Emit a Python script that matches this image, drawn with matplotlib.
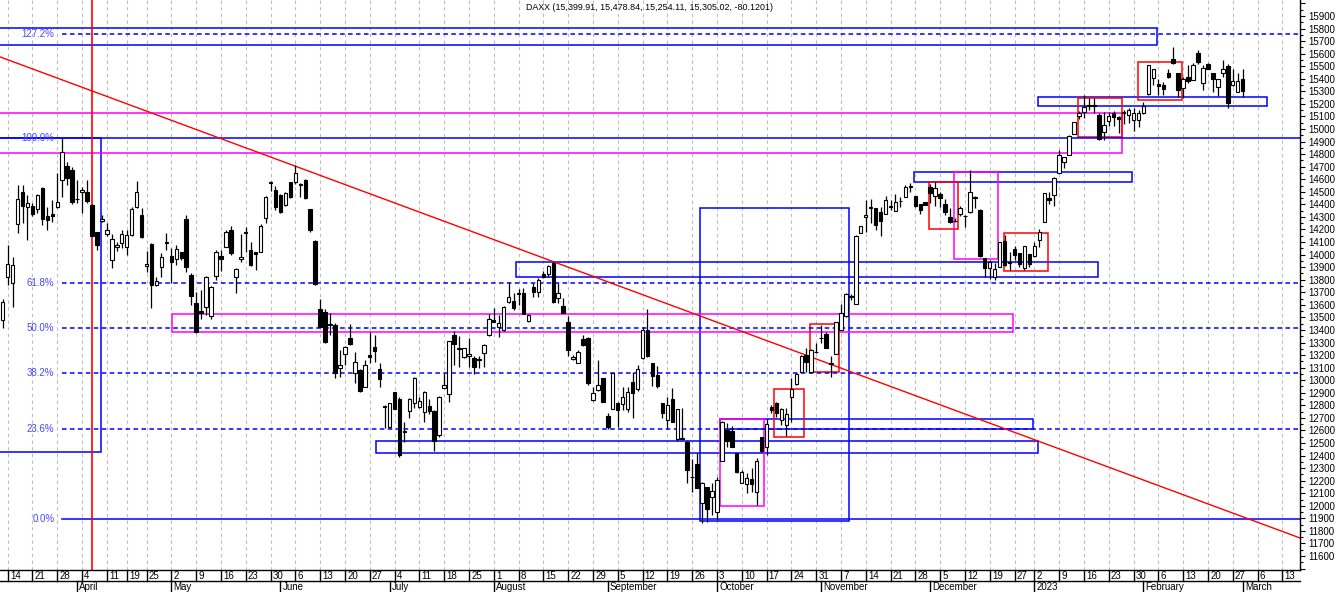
import matplotlib
matplotlib.use("Agg")
import matplotlib.pyplot as plt
from matplotlib.patches import Rectangle
from matplotlib.ticker import MultipleLocator, FuncFormatter
import pandas as pd

TITLE = "DAXX (15,399.91, 15,478.84, 15,254.11, 15,305.02, -80.1201)"

# bars run from 2022-03-11 to 2023-03-01 (Xetra trading days), the axis goes on into March
first_day = "2022-03-11"
last_axis_day = "2023-03-24"
holidays = ["2022-04-15", "2022-04-18", "2022-12-26"]

# one line per week
opens = [13480,
         13825, 13772, 14244, 14501, 14377,
         14387, 14361, 14528, 14308, 14324,
         14377, 14594, 14706, 14674, 14440,
         14501, 14501, 14395, 14178, 14270,
         14164, 13957, 14063, 14095,
         14058, 14156, 14377, 14316,
         13910, 14085, 13758, 13904, 14095,
         13989, 13963, 14018, 14281, 13838,
         13618, 13550, 13586, 13510, 13830,
         13990, 14063, 14196, 13819, 13963,
         14180, 14037, 14020, 14024, 14289,
         14570, 14515, 14475, 14395, 14576,
         14576, 14560, 14594, 14361, 14111,
         13564, 13546, 13440, 13440, 13095,
         13209, 13334, 13060, 13081, 12949,
         13200, 13262, 13087, 12795, 12625,
         12904, 12853, 12590, 12758, 12816,
         12784, 12750, 12795, 12758, 12564,
         12941, 12890, 13360, 13250, 13182,
         13193, 13174, 13160, 13214, 13360,
         13480, 13421, 13400, 13626, 13634,
         13690, 13697, 13470, 13740, 13705,
         13846, 13846, 13936, 13652, 13591,
         13466, 13167, 13135, 13326, 13334,
         12843, 12922, 13015, 12715, 12768,
         12822, 12811, 12768, 12983, 12928,
         13174, 13400, 13140, 13042, 12821,
         12683, 12848, 12529, 12537, 12511,
         12230, 12333, 12025, 12147, 12068,
         11953, 12360, 12604, 12598, 12418,
         12179, 12174, 12211, 12113, 12545,
         12471, 12784, 12816, 12683, 12643,
         12869, 12970, 13068, 13201, 13068,
         13225, 13340, 13368, 13135, 13206,
         13400, 13511, 13670, 13607, 14175,
         14297, 14370, 14369, 14342, 14324,
         14385, 14350, 14430, 14456, 14545,
         14467, 14403, 14422, 14536, 14467,
         14483, 14403, 14302, 14270, 14324,
         14310, 14342, 14448, 14355, 13971,
         13890, 13825, 13904, 14108, 13930,
         14042, 14010, 13891, 14002,
         13989, 14116, 14262, 14453, 14475,
         14653, 14740, 14793, 14960, 15105,
         15138, 15195, 15190, 15112, 14980,
         15066, 15125, 15093, 15130, 15112,
         15072, 15072, 15125, 15279, 15404,
         15360, 15350, 15449, 15555, 15443,
         15324, 15417, 15390, 15603, 15364,
         15518, 15449, 15337, 15449, 15502,
         15350, 15298, 15399.91]

highs = [13650,
         14077, 13984, 14554, 14554, 14475,
         14408, 14480, 14541, 14382, 14435,
         14647, 14926, 14740, 14700, 14594,
         14541, 14594, 14400, 14180, 14316,
         14249, 14162, 14103, 14196,
         14196, 14382, 14589, 14369,
         14032, 14090, 13825, 14010, 14175,
         14050, 14077, 14024, 14316, 13851,
         13705, 13720, 13830, 13750, 14037,
         14037, 14196, 14228, 13890, 14164,
         14223, 14103, 14024, 14244, 14470,
         14586, 14546, 14480, 14495, 14580,
         14714, 14568, 14600, 14365, 14115,
         13644, 13564, 13533, 13453, 13241,
         13270, 13448, 13227, 13090, 13161,
         13387, 13360, 13134, 12803, 12822,
         12909, 12869, 12670, 12856, 13025,
         12869, 12914, 12848, 12760, 12877,
         13060, 13315, 13395, 13352, 13260,
         13334, 13193, 13190, 13285, 13525,
         13573, 13520, 13591, 13785, 13692,
         13724, 13732, 13530, 13772, 13812,
         13866, 13918, 13944, 13772, 13652,
         13511, 13201, 13241, 13360, 13342,
         12949, 13161, 13015, 12737, 13055,
         12830, 12949, 12949, 13068, 13121,
         13420, 13565, 13140, 13115, 12821,
         12869, 12935, 12768, 12776, 12519,
         12370, 12418, 12192, 12147, 12184,
         12232, 12678, 12657, 12638, 12418,
         12286, 12259, 12298, 12378, 12545,
         12689, 12800, 12824, 12776, 12776,
         13015, 13055, 13201, 13254, 13246,
         13294, 13440, 13387, 13193, 13466,
         13607, 13692, 13687, 14156, 14228,
         14435, 14440, 14369, 14382, 14467,
         14435, 14483, 14462, 14554, 14573,
         14467, 14403, 14422, 14562, 14581,
         14501, 14440, 14369, 14294, 14387,
         14316, 14674, 14467, 14361, 13971,
         13960, 13930, 14103, 14156, 14024,
         14070, 14010, 14071, 14002,
         14100, 14200, 14490, 14500, 14615,
         14833, 14780, 14950, 15059, 15146,
         15271, 15244, 15250, 15130, 15138,
         15138, 15146, 15104, 15150, 15165,
         15165, 15150, 15218, 15510, 15470,
         15396, 15377, 15475, 15656, 15443,
         15417, 15510, 15523, 15629, 15510,
         15523, 15449, 15396, 15550, 15518,
         15475, 15443, 15478.84]

lows = [13413,
        13758, 13580, 14175, 14249, 14117,
        14310, 14330, 14236, 14196, 14263,
        14370, 14462, 14554, 14405, 14408,
        14334, 14414, 14150, 14040, 14260,
        14150, 13891, 14032, 14050,
        13997, 14150, 14370, 14135,
        13864, 13573, 13750, 13825, 14037,
        13777, 13918, 13960, 13864, 13599,
        13375, 13490, 13519, 13485, 13798,
        13872, 14058, 14000, 13692, 13944,
        14024, 13910, 13878, 14020, 14249,
        14509, 14355, 14329, 14390, 14448,
        14562, 14462, 14440, 14183, 13758,
        13420, 13299, 13360, 13015, 13023,
        13121, 13280, 12975, 12910, 12945,
        13134, 13148, 12949, 12617, 12617,
        12770, 12391, 12511, 12697, 12776,
        12780, 12670, 12731, 12439, 12551,
        12936, 12829, 13121, 13103, 13175,
        13108, 13050, 13100, 13103, 13352,
        13460, 13342, 13395, 13618, 13559,
        13599, 13525, 13460, 13665, 13665,
        13810, 13820, 13618, 13618, 13533,
        13193, 13161, 13135, 13273, 12962,
        12837, 12917, 12829, 12609, 12768,
        12625, 12763, 12750, 12700, 12915,
        13170, 13187, 12954, 12940, 12700,
        12617, 12665, 12520, 12529, 12184,
        12113, 12139, 11866, 11874, 11925,
        11887, 12360, 12466, 12466, 12265,
        12179, 12100, 12113, 12007, 12430,
        12404, 12740, 12710, 12644, 12556,
        12670, 12964, 13062, 13068, 13060,
        13214, 13299, 13254, 13028, 13206,
        13400, 13506, 13639, 13607, 14175,
        14183, 14249, 14196, 14148, 14324,
        14355, 14350, 14382, 14456, 14501,
        14382, 14323, 14395, 14414, 14387,
        14382, 14316, 14255, 14260, 14308,
        14223, 14334, 14369, 13980, 13825,
        13803, 13798, 13900, 13909, 13878,
        13960, 13905, 13878, 13900,
        13980, 14060, 14262, 14400, 14390,
        14653, 14690, 14793, 14960, 15080,
        15085, 15151, 15130, 14913, 14913,
        15024, 15024, 14970, 15040, 15045,
        14987, 15013, 15120, 15270, 15350,
        15271, 15271, 15404, 15520, 15258,
        15244, 15368, 15390, 15520, 15311,
        15475, 15298, 15263, 15412, 15165,
        15342, 15298, 15254.11]

closes = [13626,
          13929, 13917, 14440, 14388, 14413,
          14326, 14474, 14283, 14274, 14305,
          14417, 14820, 14606, 14415, 14446,
          14518, 14424, 14152, 14078, 14284,
          14193, 14124, 14076, 14163,
          14153, 14362, 14502, 14142,
          13924, 13756, 13793, 13979, 14098,
          13940, 14042, 13971, 13902, 13674,
          13381, 13534, 13825, 13740, 14024,
          13964, 14183, 14010, 13883, 13984,
          14175, 13917, 14008, 14228, 14462,
          14575, 14382, 14342, 14488, 14462,
          14653, 14557, 14448, 14196, 13766,
          13426, 13307, 13447, 13055, 13121,
          13267, 13288, 13142, 12917, 13118,
          13186, 13236, 13007, 12784, 12816,
          12774, 12405, 12596, 12850, 13020,
          12835, 12909, 12758, 12519, 12869,
          12962, 13312, 13286, 13254, 13254,
          13206, 13103, 13166, 13281, 13485,
          13466, 13453, 13586, 13665, 13573,
          13697, 13527, 13520, 13700, 13798,
          13825, 13910, 13626, 13697, 13538,
          13241, 13188, 13222, 13280, 12975,
          12896, 12962, 12829, 12630, 13055,
          12763, 12869, 12909, 12901, 13087,
          13400, 13189, 13034, 12956, 12742,
          12803, 12671, 12767, 12531, 12284,
          12227, 12139, 12183, 11975, 12114,
          12209, 12670, 12517, 12470, 12273,
          12272, 12220, 12172, 12355, 12438,
          12650, 12765, 12741, 12767, 12731,
          12931, 13053, 13196, 13148, 13243,
          13228, 13338, 13257, 13130, 13460,
          13533, 13688, 13666, 14146, 14224,
          14313, 14379, 14234, 14267, 14431,
          14380, 14422, 14427, 14539, 14541,
          14383, 14355, 14397, 14490, 14529,
          14447, 14343, 14261, 14264, 14370,
          14306, 14497, 14460, 13986, 13893,
          13942, 13885, 14098, 13914, 13940,
          13995, 13925, 14071, 13924,
          14069, 14181, 14490, 14436, 14610,
          14792, 14775, 14948, 15058, 15128,
          15178, 15187, 15181, 14920, 15033,
          15103, 15093, 15077, 15132, 15150,
          15126, 15128, 15181, 15509, 15476,
          15345, 15321, 15412, 15524, 15307,
          15398, 15380, 15507, 15533, 15482,
          15478, 15398, 15400, 15476, 15210,
          15382, 15385, 15305.02]

# fibonacci retracement (0% = Sept low, 100% = March high)
fib_names = ["127.2%", "100.0%", "61.8%", "50.0%", "38.2%", "23.6%", "0.0%"]
fib_levels = [15757, 14929, 13770, 13412, 13054, 12611, 11895]

# hand drawn boxes: (left bar, right bar, low, high)
blue_boxes = [(-3, 232.7, 15669, 15804),
              (208.8, 254.9, 15183, 15253),
              (-3, 19.8, 12432, 14929),
              (103.5, 220.8, 13820, 13939),
              (75.3, 208.7, 12418, 12516),
              (144.7, 207.8, 12609, 12689),
              (140.6, 170.7, 11879, 14369),
              (183.7, 227.7, 14576, 14656)]
magenta_boxes = [(-3, 225.7, 14807, 15128),
                 (34.2, 203.7, 13382, 13525),
                 (144.7, 153.5, 11999, 12689),
                 (191.9, 200.7, 13963, 14656)]
red_boxes = [(228.9, 237.8, 15229, 15531),
             (216.9, 225.7, 14939, 15245),
             (155.6, 161.6, 12546, 12928),
             (162.8, 168.7, 13063, 13445),
             (186.8, 192.7, 14202, 14581),
             (201.9, 210.8, 13870, 14170)]

# red trend line (bar, price) and the red marker line
trend_bars = [-0.54, 261.56]
trend_prices = [15574, 11744]
marker_bar = 18.06

X_RANGE = (-0.544, 261.56)
Y_RANGE = (11489, 16027)
FIB_BLUE = "#4646ff"


def trading_days():
    days = pd.bdate_range(first_day, last_axis_day)
    return days[~days.isin(pd.to_datetime(holidays))]


def draw_candles(ax):
    n = len(closes)
    x = list(range(n))
    ax.vlines(x, lows, highs, color="black", lw=0.9, zorder=3)
    bottoms = [min(o, c) for o, c in zip(opens, closes)]
    heights = [abs(c - o) for o, c in zip(opens, closes)]
    faces = ["black" if c < o else "white" for o, c in zip(opens, closes)]
    ax.bar(x, heights, bottom=bottoms, width=0.7, color=faces,
           edgecolor="black", lw=0.8, zorder=4)


def draw_boxes(ax):
    for boxes, colour in [(blue_boxes, "#0000ff"), (magenta_boxes, "#ff00ff"),
                          (red_boxes, "#ff0000")]:
        for x0, x1, y0, y1 in boxes:
            ax.add_patch(Rectangle((x0, y0), x1 - x0, y1 - y0, fill=False,
                                   edgecolor=colour, lw=1.1, zorder=2))


def draw_fibs(ax):
    for name, level in zip(fib_names, fib_levels):
        if name == "100.0%":
            ax.plot(X_RANGE, [level, level], color="#0000ff", lw=1.1, zorder=2)
        elif name == "0.0%":
            ax.plot([12.0, X_RANGE[1]], [level, level], color="#0000ff", lw=1.1, zorder=2)
        else:
            ax.plot([12.0, X_RANGE[1]], [level, level], color="#0000ff", lw=1.1,
                    ls=(0, (3, 2.2)), zorder=2)
        ax.text(10.4, level, name, ha="right", va="center", fontsize=7,
                color=FIB_BLUE, zorder=5)


def draw_date_strip(fig, days):
    strip = fig.add_axes([0, 0, 1300 / 1336, 22 / 592])
    strip.set_xlim(X_RANGE)
    strip.set_ylim(22, 0)
    strip.axis("off")
    strip.plot(X_RANGE, [11, 11], color="black", lw=1, clip_on=False)
    for i in range(1, len(days)):
        if i > X_RANGE[1]:
            break
        d, prev = days[i], days[i - 1]
        if d.isocalendar()[1] != prev.isocalendar()[1]:
            strip.plot([i, i], [0, 11], color="black", lw=1)
            strip.text(i + 0.45, 5.8, str(d.day), fontsize=7, ha="left", va="center")
        if d.month != prev.month:
            strip.plot([i, i], [11, 22], color="black", lw=1)
            label = str(d.year) if d.month == 1 else d.strftime("%B")
            strip.text(i + 0.45, 17.0, label, fontsize=7, ha="left", va="center")


def main() -> None:
    plt.rcParams["font.family"] = ["Liberation Sans", "DejaVu Sans"]
    days = trading_days()

    fig = plt.figure(figsize=(13.36, 5.92), dpi=100)
    ax = fig.add_axes([0, 22 / 592, 1300 / 1336, 570 / 592])
    ax.set_xlim(X_RANGE)
    ax.set_ylim(Y_RANGE)

    # weekly grid
    for i in range(1, len(days)):
        if i > X_RANGE[1]:
            break
        if days[i].isocalendar()[1] != days[i - 1].isocalendar()[1]:
            ax.axvline(i, color="#bdbdbd", lw=0.8, ls=(0, (3, 3)), zorder=0)

    draw_boxes(ax)
    draw_fibs(ax)
    ax.plot(trend_bars, trend_prices, color="#ff0000", lw=1.0, zorder=2.5)
    ax.axvline(marker_bar, color="#ff0000", lw=1.2, zorder=2.5)
    draw_candles(ax)

    ax.set_xticks([])
    ax.yaxis.tick_right()
    ax.yaxis.set_major_locator(MultipleLocator(100))
    ax.yaxis.set_minor_locator(MultipleLocator(50))
    ax.yaxis.set_major_formatter(FuncFormatter(
        lambda v, pos: "%d" % v if 11600 <= v <= 15900 else ""))
    ax.tick_params(axis="y", which="major", length=3.6, width=0.8, pad=2.5,
                   labelsize=7, direction="out")
    ax.tick_params(axis="y", which="minor", length=2, width=0.8, direction="out")
    for side in ["top", "left"]:
        ax.spines[side].set_visible(False)
    ax.spines["right"].set_linewidth(1)
    ax.spines["bottom"].set_linewidth(1)

    fig.text(650 / 1336, 1 - 7 / 592, TITLE, ha="center", va="center", fontsize=6.4)
    draw_date_strip(fig, days)

    fig.savefig("out.png", dpi=100, facecolor="white")


if __name__ == "__main__":
    main()
